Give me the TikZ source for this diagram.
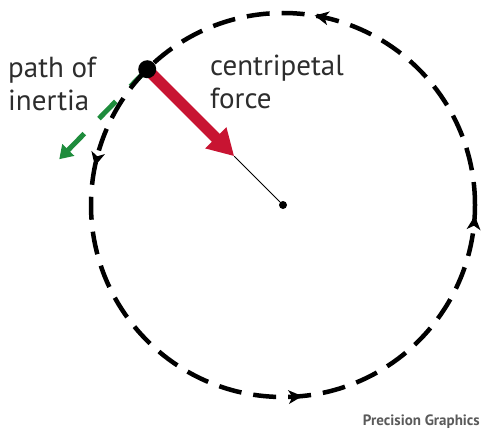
\documentclass[tikz,border=0pt]{standalone}
\usepackage{fontspec}
\setmainfont{PT Sans}
\usetikzlibrary{arrows.meta,calc}
\definecolor{redarrow}{RGB}{200,20,50}
\definecolor{greenarrow}{RGB}{30,140,60}
\definecolor{txt}{RGB}{45,45,45}
\definecolor{credit}{RGB}{90,90,90}
\tikzset{orbittip/.pic={\fill[black] (6pt,0pt) -- (-8pt,7pt) -- (-4pt,0pt) -- (-8pt,-7pt) -- cycle;}}
\begin{document}
\begin{tikzpicture}[x=1pt,y=-1pt,
  orbit/.style={line width=4.5pt, dash pattern=on 23pt off 12pt},
  lbl/.style={font=\fontsize{29}{33}\selectfont, text=txt, align=left, inner sep=0pt},
  redarr/.style={draw=redarrow, line width=11pt, -{Triangle[length=26pt,width=28pt]}},
  greenarr/.style={draw=greenarrow, line width=5pt, dash pattern=on 24pt off 21pt, -{Triangle[length=13pt,width=16pt]}},
  dot/.style={fill=black, circle, inner sep=0pt},
]
\useasboundingbox (0,0) rectangle (481,428);
\node[dot, minimum size=8pt] (c) at (283,205) {};
\coordinate (pc) at ($(c.center)+(-135:192)$);
\coordinate (tip) at ($(pc)!123pt!(c.center)$);
\coordinate (g) at ($(pc)+(-88,90)$);
% path of inertia
\draw[greenarr] (pc) -- (g);
% orbit
\draw[orbit] (c.center) circle[radius=192pt];
\pic[rotate=168.7] at ($(c.center)+(-78.7:192)$) {orbittip};
\pic[rotate=256.5] at ($(c.center)+(-166.5:192)$) {orbittip};
\pic[rotate=4] at ($(c.center)+(86:192)$) {orbittip};
\pic[rotate=85] at ($(c.center)+(5:192)$) {orbittip};
% centripetal force
\draw[redarr] (pc) -- (tip);
\draw[line width=1pt] (tip) -- (c);
\node[dot, minimum size=18pt] (p) at (pc) {};
% labels
\node[lbl, anchor=north west] (inertia) at (8,57) {path of\\inertia};
\node[lbl, anchor=north west] (force) at (210,55) {centripetal\\force};
\node[anchor=base east, inner sep=0pt, font=\fontsize{15}{15}\selectfont\bfseries, text=credit] (credit) at (480,425) {Precision Graphics};
\end{tikzpicture}
\end{document}
